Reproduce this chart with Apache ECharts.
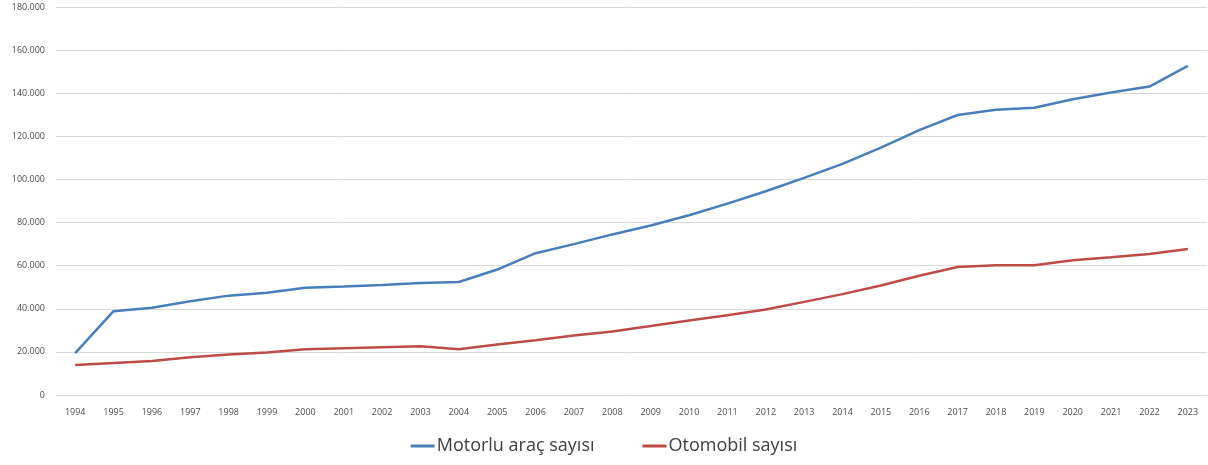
<!DOCTYPE html>
<html><head><meta charset="utf-8">
<script src="https://cdn.jsdelivr.net/npm/echarts@6/dist/echarts.min.js"></script>
<style>html,body{margin:0;padding:0;background:#fff}#c{width:1208px;height:465px}</style>
</head><body><div id="c"></div>
<script>
const years = ['1994','1995','1996','1997','1998','1999','2000','2001','2002','2003','2004','2005','2006','2007','2008','2009','2010','2011','2012','2013','2014','2015','2016','2017','2018','2019','2020','2021','2022','2023'];
const motorlu = [19400,38900,40500,43500,46100,47400,49800,50300,51000,52000,52400,58200,65800,70000,74500,78600,83400,88800,94500,100700,107200,114800,122900,129900,132300,133300,137200,140300,143100,152700];
const otomobil = [13900,14800,15800,17500,18800,19700,21200,21700,22200,22600,21200,23400,25400,27600,29500,32000,34600,37000,39700,43200,46800,50800,55300,59400,60200,60200,62500,63900,65400,67700];
const seriesNames = ['Motorlu araç sayısı','Otomobil sayısı'];

const fmt = v => String(v).replace(/\B(?=(\d{3})+(?!\d))/g, '.');
const chart = echarts.init(document.getElementById('c'));
chart.setOption({
  animation:false,
  textStyle:{fontFamily:'Open Sans'},
  grid:{left:56,right:1,top:7,bottom:70,containLabel:false},
  legend:{
    data:seriesNames, bottom:5, left:'center',
    icon:'rect', itemWidth:24, itemHeight:3, itemGap:48,
    textStyle:{fontSize:18, color:'#404040', fontFamily:'Open Sans', padding:[0,0,0,-3]}
  },
  xAxis:{
    type:'category', data:years, boundaryGap:true,
    axisLine:{show:true,lineStyle:{color:'#D9D9D9'}},
    axisTick:{show:false},
    axisLabel:{fontSize:9, color:'#4D4D4D', margin:13, interval:0}
  },
  yAxis:{
    type:'value', min:0, max:180000, interval:20000,
    axisLine:{show:false}, axisTick:{show:false},
    splitLine:{lineStyle:{color:'#D9D9D9'}},
    axisLabel:{fontSize:9, color:'#4D4D4D', margin:11, formatter:fmt}
  },
  series:[
    {name:seriesNames[0], type:'line', data:motorlu, showSymbol:false, symbol:'none', lineStyle:{width:2.5,color:'#4A7EBB'}, itemStyle:{color:'#4A7EBB'}},
    {name:seriesNames[1], type:'line', data:otomobil, showSymbol:false, symbol:'none', lineStyle:{width:2.5,color:'#BE4B48'}, itemStyle:{color:'#BE4B48'}}
  ]
});
</script></body></html>
